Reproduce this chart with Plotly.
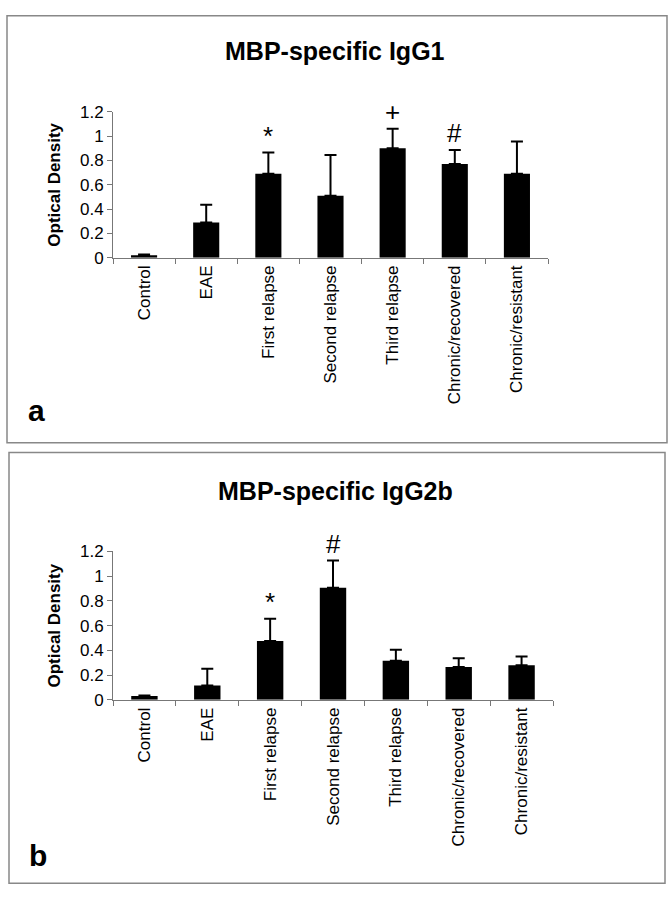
import plotly.graph_objects as go

categories = ["Control", "EAE", "First relapse", "Second relapse",
              "Third relapse", "Chronic/recovered", "Chronic/resistant"]
igg1_values = [0.02, 0.29, 0.69, 0.51, 0.90, 0.77, 0.69]
igg1_errors = [0.005, 0.145, 0.175, 0.335, 0.16, 0.115, 0.265]
igg2b_values = [0.03, 0.115, 0.475, 0.905, 0.315, 0.265, 0.28]
igg2b_errors = [0.005, 0.135, 0.18, 0.22, 0.09, 0.07, 0.07]
ytick_vals = [0, 0.2, 0.4, 0.6, 0.8, 1.0, 1.2]
ytick_text = ["0", "0.2", "0.4", "0.6", "0.8", "1", "1.2"]
igg1_marks = {"First relapse": "*", "Third relapse": "+", "Chronic/recovered": "#"}
igg2b_marks = {"First relapse": "*", "Second relapse": "#"}
titles = ["MBP-specific IgG1", "MBP-specific IgG2b"]
panel_letters = ["a", "b"]
y_title = "Optical Density"

W, H = 670, 900
FONT = "Liberation Sans, Arial, sans-serif"


def px(x):
    return x / W


def py(y):
    return 1 - y / H


fig = go.Figure()

panels = [
    dict(vals=igg1_values, errs=igg1_errors, marks=igg1_marks, xa="x", ya="y",
         xdom=[px(113), px(548)], ydom=[py(254), py(105)],
         box=(7, 7, 667, 443), title_y=43, letter_xy=(36, 410)),
    dict(vals=igg2b_values, errs=igg2b_errors, marks=igg2b_marks, xa="x2", ya="y2",
         xdom=[px(113), px(553)], ydom=[py(705.7), py(554)],
         box=(9, 453, 665, 893), title_y=492, letter_xy=(38, 865)),
]

annotations = []
shapes = []
for i, p in enumerate(panels):
    fig.add_trace(go.Bar(
        x=categories, y=p["vals"], xaxis=p["xa"], yaxis=p["ya"],
        marker=dict(color="black", line=dict(width=0)),
        error_y=dict(type="data", array=p["errs"], symmetric=False,
                     arrayminus=[0] * len(p["errs"]), color="black",
                     thickness=2, width=6),
        showlegend=False,
    ))
    suffix = "" if i == 0 else "2"
    common_x = dict(domain=p["xdom"], anchor=p["ya"], type="category",
                    showline=True, linecolor="#777", linewidth=1,
                    ticks="outside", tickson="boundaries", ticklen=5,
                    tickcolor="#777", tickangle=-90,
                    tickfont=dict(family=FONT, size=17, color="black"),
                    showgrid=False, zeroline=False, fixedrange=True)
    common_y = dict(domain=p["ydom"], anchor=p["xa"], range=[0, 1.2],
                    tickvals=ytick_vals, ticktext=ytick_text,
                    showline=True, linecolor="#777", linewidth=1,
                    ticks="outside", ticklen=5, tickcolor="#777",
                    tickfont=dict(family=FONT, size=17, color="black"),
                    showgrid=False, zeroline=False, fixedrange=True)
    fig.layout["xaxis" + suffix] = common_x
    fig.layout["yaxis" + suffix] = common_y

    x0, y0, x1, y1 = p["box"]
    shapes.append(dict(type="rect", xref="paper", yref="paper",
                       x0=px(x0), x1=px(x1), y0=py(y1), y1=py(y0),
                       line=dict(color="#888", width=1.5)))
    annotations.append(dict(text="<b>" + titles[i] + "</b>", xref="paper", yref="paper",
                            x=px(335), y=py(p["title_y"]), xanchor="center",
                            yanchor="middle", showarrow=False,
                            font=dict(family=FONT, size=25, color="black")))
    annotations.append(dict(text="<b>" + panel_letters[i] + "</b>", xref="paper",
                            yref="paper", x=px(p["letter_xy"][0]),
                            y=py(p["letter_xy"][1]), xanchor="center",
                            yanchor="middle", showarrow=False,
                            font=dict(family=FONT, size=30, color="black")))
    annotations.append(dict(text="<b>" + y_title + "</b>", xref="paper",
                            yref=p["ya"] + " domain", x=px(55), y=0.5,
                            xanchor="center", yanchor="middle", textangle=-90,
                            showarrow=False,
                            font=dict(family=FONT, size=17, color="black")))
    for cat, mark in p["marks"].items():
        k = categories.index(cat)
        annotations.append(dict(text=mark, xref=p["xa"], yref=p["ya"],
                                x=cat, y=p["vals"][k] + p["errs"][k],
                                xanchor="center", yanchor="bottom", yshift=0,
                                showarrow=False,
                                font=dict(family=FONT, size=26, color="black")))

fig.update_layout(
    width=W, height=H, autosize=False,
    margin=dict(l=0, r=0, t=0, b=0),
    paper_bgcolor="white", plot_bgcolor="white",
    bargap=0.58,
    annotations=annotations, shapes=shapes,
)

fig.write_html("out.html", config={"displayModeBar": False},
               post_script="document.body.style.margin='0';"
                           "document.body.style.overflow='hidden';")
